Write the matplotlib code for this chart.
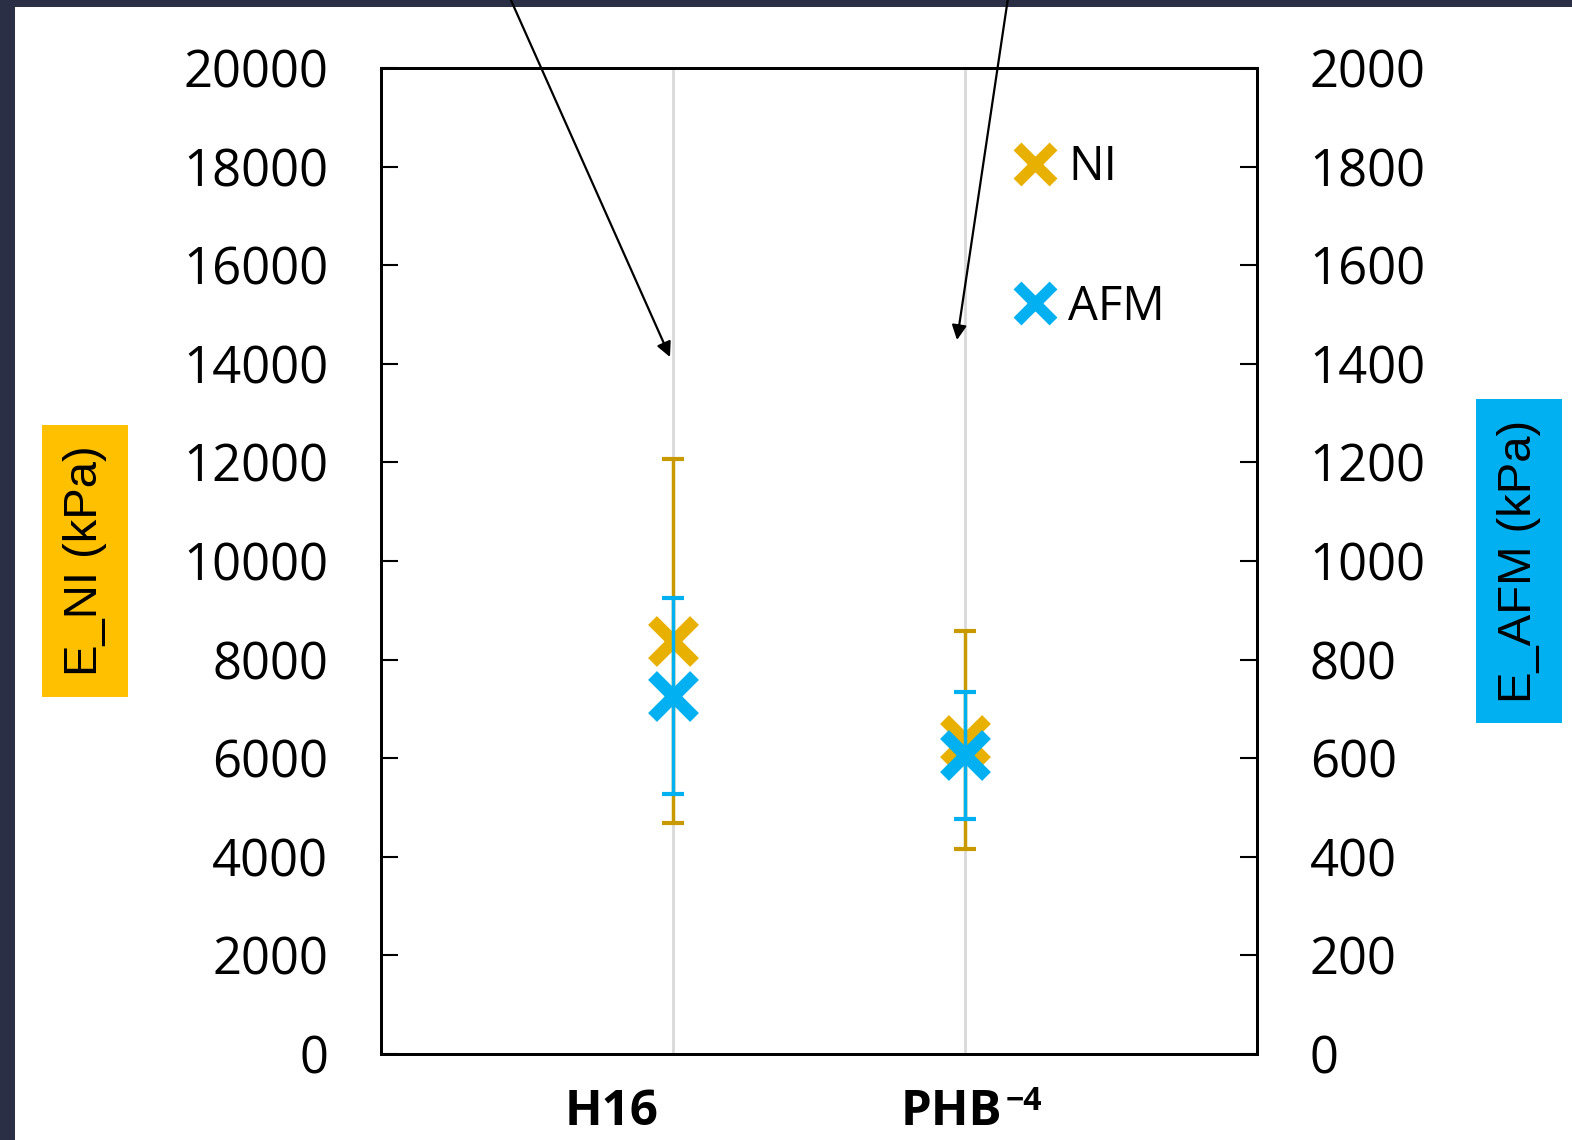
import matplotlib
matplotlib.use("Agg")
import matplotlib.pyplot as plt
from matplotlib.lines import Line2D
from matplotlib.patches import Rectangle

plt.rcParams['font.family'] = ['Open Sans', 'DejaVu Sans']

# data
samples = ["H16", "PHB"]
sample_sup = ["", "\u22124"]
x_pos = [1, 2]
ni_mean = [8370, 6370]
ni_err = [3690, 2210]
afm_mean = [726, 606]
afm_err = [198, 129]

ni_marker = "#E8B000"
ni_bar = "#C99A00"
afm_col = "#00B0F0"

W, H = 1572, 1140
fig = plt.figure(figsize=(W / 100, H / 100), dpi=100, facecolor="#2B2F45")
# white page with the dark frame on left/top
fig.add_artist(Rectangle((15 / W, 0), 1 - 15 / W, 1 - 7 / H, transform=fig.transFigure,
                         facecolor="white", edgecolor="none", zorder=-10))

ax = fig.add_axes([381 / W, 86 / H, 876 / W, 986 / H])
ax2 = ax.twinx()

ax.set_xlim(0, 3)
ax.set_ylim(0, 20000)
ax2.set_ylim(0, 2000)
ax.set_yticks(range(0, 20001, 2000))
ax2.set_yticks(range(0, 2001, 200))
ax.set_xticks(x_pos)
ax.set_xticklabels([])
ax.tick_params(axis="x", length=0)
ax.grid(axis="x", color="#D9D9D9", lw=2)
ax.set_axisbelow(True)

for a in (ax, ax2):
    for s in a.spines.values():
        s.set_linewidth(2)
ax.tick_params(axis="y", direction="in", length=12, width=1.5, labelsize=36.5, pad=38)
ax2.tick_params(axis="y", direction="in", length=12, width=1.5, labelsize=36.5, pad=38)

# NI on left axis
ax.errorbar(x_pos, ni_mean, yerr=ni_err, fmt="none", ecolor=ni_bar, elinewidth=2.5,
            capsize=8, capthick=3, zorder=3)
ax.plot(x_pos, ni_mean, ls="none", marker="x", ms=30, mew=9, color=ni_marker, zorder=4)
# AFM on right axis
ax2.errorbar(x_pos, afm_mean, yerr=afm_err, fmt="none", ecolor=afm_col, elinewidth=2.5,
             capsize=8, capthick=3, zorder=3)
ax2.plot(x_pos, afm_mean, ls="none", marker="x", ms=30, mew=9, color=afm_col, zorder=4)

# category labels (placed like the text boxes in the original)
tr = ax.get_xaxis_transform()
ax.text(0.79, -0.072, samples[0], transform=tr, ha="center", va="baseline",
        fontsize=35.5, fontweight="bold")
ax.text(1.955, -0.072, samples[1], transform=tr, ha="center", va="baseline",
        fontsize=35.5, fontweight="bold")
ax.text(2.14, -0.057, sample_sup[1], transform=tr, ha="left", va="baseline",
        fontsize=23, fontweight="bold")

# legend
handles = [Line2D([], [], ls="none", marker="x", ms=26, mew=8, color=ni_marker),
           Line2D([], [], ls="none", marker="x", ms=26, mew=8, color=afm_col)]
ax2.legend(handles, ["NI", "AFM"], loc="upper left", bbox_to_anchor=(0.698, 0.947),
           frameon=False, fontsize=34, labelspacing=1.95, handlelength=0.8,
           handletextpad=0.3, borderpad=0)

# axis titles in coloured boxes
fig.text(85 / W, 1 - 561 / H, "E_NI (kPa)", rotation=90, ha="center", va="center", fontsize=34,
         family=["Liberation Sans", "DejaVu Sans"],
         bbox=dict(boxstyle="square,pad=0.44", facecolor="#FFC000", edgecolor="none"))
fig.text(1519 / W, 1 - 561 / H, "E_AFM (kPa)", rotation=90, ha="center", va="center", fontsize=34,
         family=["Liberation Sans", "DejaVu Sans"],
         bbox=dict(boxstyle="square,pad=0.44", facecolor="#00B0F0", edgecolor="none"))

# pointer arrows coming in from above
arrows = [((510, H + 2), (670, H - 357)), ((1008, H + 2), (957, H - 340))]
for start, end in arrows:
    fig.add_artist(plt.Annotation("", xy=end, xytext=start, xycoords="figure pixels",
                                  textcoords="figure pixels", annotation_clip=False,
                                  arrowprops=dict(arrowstyle="-|>", color="black", lw=1.6,
                                                  mutation_scale=22, shrinkA=0, shrinkB=0)))

fig.savefig("out.png", dpi=100, facecolor=fig.get_facecolor())
